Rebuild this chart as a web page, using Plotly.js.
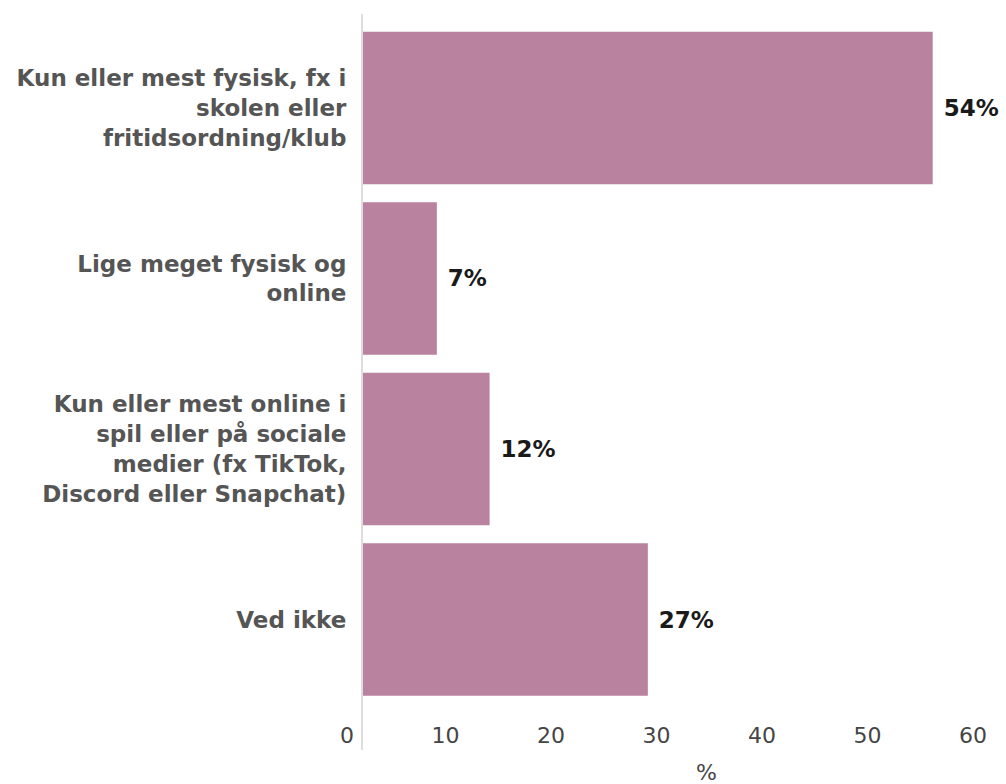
<!DOCTYPE html>
<html>
<head>
<meta charset="utf-8">
<script src="https://cdn.plot.ly/plotly-3.0.1.min.js"></script>
<style>html,body{margin:0;padding:0;background:#fff;}#chart{width:1006px;height:784px;}</style>
</head>
<body>
<div id="chart"></div>
<script>
const categories = [
  "Kun eller mest fysisk, fx i<br>skolen eller<br>fritidsordning/klub",
  "Lige meget fysisk og<br>online",
  "Kun eller mest online i<br>spil eller på sociale<br>medier (fx TikTok,<br>Discord eller Snapchat)",
  "Ved ikke"
];
const values = [54, 7, 12, 27];
const tickValues = [0, 10, 20, 30, 40, 50, 60];
const axisTitle = "%";

const trace = {
  type: "bar",
  orientation: "h",
  y: categories,
  x: values,
  marker: {color: "#b9829e"},
  texttemplate: "\u00a0%{x}%",
  textposition: "outside",
  cliponaxis: false,
  textfont: {family: "DejaVu Sans", size: 23, color: "#1a1a1a", weight: 600},
  hoverinfo: "skip"
};

const layout = {
  width: 1006,
  height: 784,
  margin: {l: 363, r: 6, t: 14, b: 34},
  paper_bgcolor: "#ffffff",
  plot_bgcolor: "#ffffff",
  bargap: 0.105,
  showlegend: false,
  xaxis: {
    range: [0, 60.38],
    tickvals: tickValues,
    ticks: "",
    showgrid: false,
    zeroline: false,
    showline: false,
    ticklabelposition: "outside left",
    ticklabelstandoff: -30,
    ticklabelshift: -9,
    tickfont: {family: "DejaVu Sans", size: 22, color: "#454545"},
    fixedrange: true
  },
  yaxis: {
    type: "category",
    range: [3.765, -0.551],
    ticks: "",
    showgrid: false,
    zeroline: false,
    showline: true,
    linecolor: "#dddddd",
    linewidth: 2,
    ticklabelstandoff: 10,
    tickfont: {family: "DejaVu Sans", size: 23, color: "#555555", weight: 600},
    fixedrange: true
  },
  annotations: [{
    text: axisTitle,
    xref: "paper", yref: "paper",
    x: 0.54, y: 0,
    xanchor: "center", yanchor: "middle",
    yshift: -22,
    showarrow: false,
    font: {family: "DejaVu Sans", size: 22, color: "#454545"}
  }],
  font: {family: "DejaVu Sans"}
};

Plotly.newPlot("chart", [trace], layout, {displayModeBar: false, staticPlot: true});
</script>
</body>
</html>
